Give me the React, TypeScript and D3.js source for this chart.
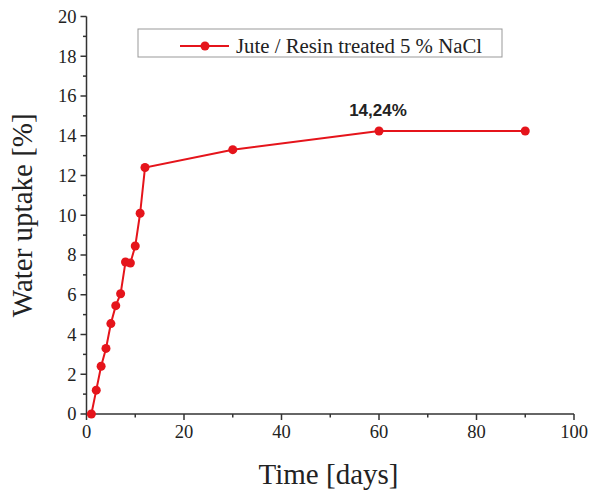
import React from "react";
import * as d3 from "d3";

const days = [1, 2, 3, 4, 5, 6, 7, 8, 9, 10, 11, 12, 30, 60, 90];
const uptake = [0, 1.2, 2.4, 3.3, 4.55, 5.45, 6.05, 7.65, 7.6, 8.45, 10.1, 12.4, 13.3, 14.24, 14.24];
const xTicks = [0, 20, 40, 60, 80, 100];
const yTicks = [0, 2, 4, 6, 8, 10, 12, 14, 16, 18, 20];
const seriesName = "Jute / Resin treated 5 % NaCl";
const annotation = "14,24%";

const W = 590, H = 495;
const L = 86.5, R = 574, T = 16.5, B = 414;

export default function App() {
  const x = d3.scaleLinear().domain([0, 100]).range([L, R]);
  const y = d3.scaleLinear().domain([0, 20]).range([B, T]);
  const line = d3.line<number>().x((_, i) => x(days[i])).y((d) => y(d));
  const xMinor = d3.range(10, 100, 20);
  const yMinor = d3.range(1, 20, 2);
  const serif = "'Liberation Serif', 'Times New Roman', serif";
  const axisCol = "#333";
  const red = "#e5141b";
  return (
    <svg width={W} height={H} style={{ position: "absolute", left: 0, top: 0, background: "#fff" }}>
      <rect width={W} height={H} fill="#fff" />
      {/* axes */}
      <line x1={L} x2={L} y1={B} y2={T} stroke={axisCol} strokeWidth={1.5} />
      <line x1={L} x2={R} y1={B} y2={B} stroke={axisCol} strokeWidth={1.5} />
      {yTicks.map((t) => (
        <g key={"y" + t}>
          <line x1={L - 6} x2={L} y1={y(t)} y2={y(t)} stroke={axisCol} strokeWidth={1.5} />
          <text x={L - 10} y={y(t)} dy="0.35em" textAnchor="end" fontFamily={serif} fontSize={18.5} fill="#222">{t}</text>
        </g>
      ))}
      {yMinor.map((t) => (
        <line key={"ym" + t} x1={L - 3.5} x2={L} y1={y(t)} y2={y(t)} stroke={axisCol} strokeWidth={1.5} />
      ))}
      {xTicks.map((t) => (
        <g key={"x" + t}>
          <line x1={x(t)} x2={x(t)} y1={B} y2={B + 6} stroke={axisCol} strokeWidth={1.5} />
          <text x={x(t)} y={B + 24} textAnchor="middle" fontFamily={serif} fontSize={18.5} fill="#222">{t}</text>
        </g>
      ))}
      {xMinor.map((t) => (
        <line key={"xm" + t} x1={x(t)} x2={x(t)} y1={B} y2={B + 3.5} stroke={axisCol} strokeWidth={1.5} />
      ))}
      {/* titles */}
      <text x={328.5} y={484} textAnchor="middle" fontFamily={serif} fontSize={29} fill="#222">Time [days]</text>
      <text transform={`translate(32, ${(T + B) / 2}) rotate(-90)`} textAnchor="middle" fontFamily={serif} fontSize={29} fill="#222">Water uptake [%]</text>
      {/* series */}
      <path d={line(uptake) || ""} fill="none" stroke={red} strokeWidth={2} />
      {uptake.map((v, i) => (
        <circle key={"p" + i} cx={x(days[i])} cy={y(v)} r={4.5} fill={red} />
      ))}
      {/* annotation */}
      <text x={378} y={116} textAnchor="middle" fontFamily="'Liberation Sans', Arial, sans-serif" fontWeight="bold" fontSize={17} fill="#222">{annotation}</text>
      {/* legend */}
      <rect x={138} y={29} width={364} height={28} fill="#fff" stroke="#999" strokeWidth={1} />
      <line x1={180} x2={229} y1={46} y2={46} stroke={red} strokeWidth={2} />
      <circle cx={205} cy={46} r={4.5} fill={red} />
      <text x={236} y={46} dy="0.33em" fontFamily={serif} fontSize={20.8} fill="#222">{seriesName}</text>
    </svg>
  );
}
